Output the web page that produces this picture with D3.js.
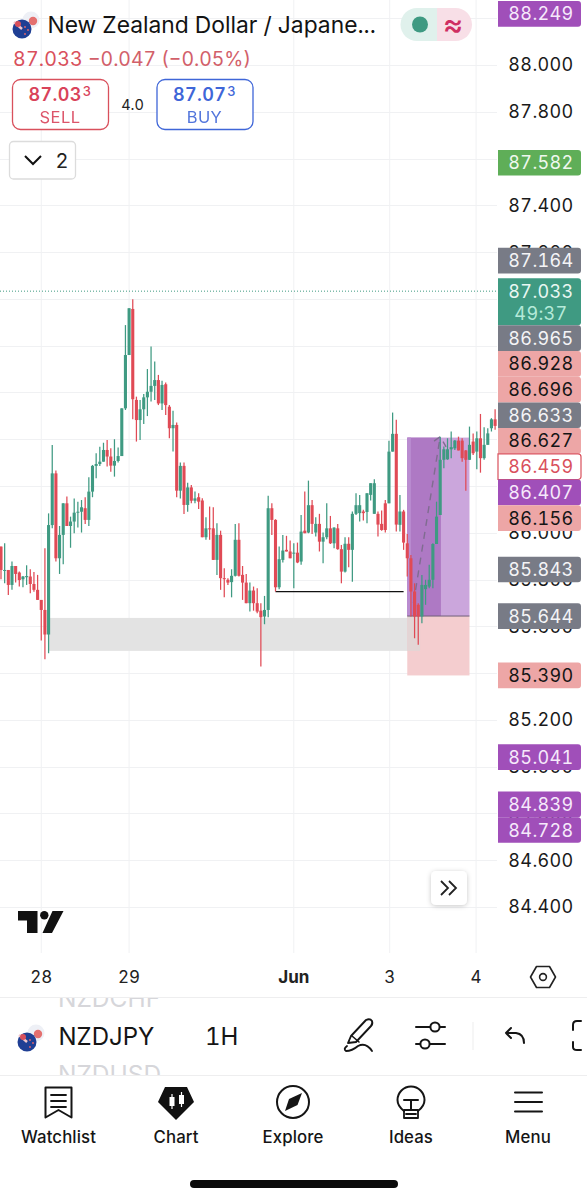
<!DOCTYPE html>
<html><head><meta charset="utf-8">
<script src="https://cdnjs.cloudflare.com/ajax/libs/d3/7.8.5/d3.min.js"></script>
<style>html,body{margin:0;padding:0;background:#fff}svg{display:block}text{font-family:Inter,"Noto Sans",sans-serif;font-variant-numeric:tabular-nums}</style>
</head><body><div id="c"></div>
<script>
// ---- data ----
const directions = ("r g r g r r g g r r r r r g g r g g r g g g g r g g g g g r r g g g g g r r g g g g g r g r r g r g r g r g r "+
 "r g r r g r r r g g r r r g r r r g g r r g g r r g r g r g r g r g g r g r r g r g g g r g g g r r r g g r g r r r r r g g g g g g g g g g r r r g r g r g g g r").trim().split(" ");
const highs = [85.941,85.955,85.841,85.877,85.858,85.834,85.815,85.861,85.844,85.832,85.820,85.713,85.934,86.083,86.375,86.266,86.029,86.126,86.155,86.069,86.147,86.133,86.140,86.152,86.237,86.290,86.340,86.368,86.385,86.397,86.361,86.400,86.365,86.532,86.888,86.960,86.998,86.582,86.568,86.593,86.700,86.796,86.732,86.675,86.650,86.642,86.546,86.522,86.471,86.300,86.300,86.214,86.204,86.176,86.169,
 86.148,86.066,86.112,86.109,86.041,86.009,85.848,85.806,85.844,86.038,86.041,85.858,85.824,85.787,85.770,85.763,85.699,85.730,86.158,86.126,86.058,85.941,85.991,85.987,85.967,85.955,85.958,86.076,86.176,86.223,86.140,86.066,86.081,86.001,86.126,86.072,86.024,86.038,85.948,85.981,85.981,86.091,86.169,86.162,86.098,86.169,86.212,86.229,86.091,86.095,86.140,86.394,86.514,86.483,
 86.162,86.098,85.995,85.905,85.784,85.699,85.820,85.799,85.863,85.955,86.133,86.411,86.369,86.404,86.433,86.397,86.411,86.404,86.354,86.454,86.425,86.433,86.508,86.451,86.447,86.490,86.528];
const bodyTops = [85.941,85.841,85.841,85.858,85.858,85.830,85.813,85.815,85.813,85.781,85.756,85.713,85.670,86.033,86.254,86.254,85.991,86.126,86.126,86.048,86.086,86.090,86.109,86.105,86.176,86.286,86.294,86.304,86.354,86.354,86.326,86.307,86.328,86.532,86.760,86.960,86.957,86.568,86.528,86.579,86.603,86.628,86.653,86.653,86.632,86.635,86.539,86.461,86.461,86.286,86.286,86.194,86.194,86.147,86.152,
 86.138,86.019,86.019,86.019,85.991,85.991,85.806,85.799,85.816,85.970,85.970,85.820,85.787,85.753,85.753,85.699,85.667,85.670,86.105,86.105,86.055,85.887,85.924,85.927,85.920,85.915,85.915,86.005,86.009,86.118,86.118,86.038,86.038,85.981,86.019,86.019,86.022,86.019,85.930,85.953,85.953,86.081,86.118,86.118,86.091,86.169,86.212,86.212,86.081,86.038,86.126,86.347,86.423,86.423,
 86.091,86.091,85.955,85.891,85.749,85.692,85.777,85.777,85.799,85.952,86.069,86.312,86.357,86.357,86.366,86.394,86.394,86.394,86.352,86.376,86.390,86.404,86.404,86.376,86.425,86.485,86.485];
const bodyBottoms = [85.841,85.838,85.777,85.777,85.824,85.798,85.801,85.810,85.781,85.756,85.713,85.670,85.565,85.565,86.033,85.891,85.891,85.991,86.029,86.029,86.048,86.086,86.090,86.055,86.055,86.176,86.286,86.294,86.304,86.326,86.287,86.287,86.307,86.328,86.532,86.760,86.571,86.482,86.482,86.528,86.579,86.603,86.628,86.553,86.553,86.546,86.447,86.447,86.180,86.180,86.119,86.119,86.137,86.137,86.133,
 85.981,85.981,86.015,85.884,85.884,85.806,85.803,85.787,85.789,85.816,85.816,85.787,85.699,85.699,85.699,85.663,85.639,85.642,85.670,86.055,85.767,85.767,85.884,85.920,85.891,85.912,85.873,85.877,85.998,86.001,86.038,86.001,85.962,85.962,85.981,85.955,85.955,85.930,85.834,85.834,85.927,85.927,86.081,86.084,86.084,86.089,86.162,86.081,86.035,86.012,86.012,86.126,86.347,86.035,
 86.034,85.958,85.891,85.749,85.642,85.642,85.642,85.759,85.770,85.799,85.952,86.076,86.312,86.314,86.357,86.361,86.352,86.319,86.312,86.312,86.340,86.347,86.319,86.319,86.376,86.447,86.457];
const lows = [85.801,85.784,85.734,85.756,85.787,85.770,85.767,85.777,85.741,85.748,85.713,85.539,85.459,85.485,86.019,85.877,85.824,85.865,86.029,85.936,85.998,86.023,86.001,86.038,86.029,86.152,86.233,86.286,86.304,86.283,86.261,86.240,86.300,86.328,86.525,86.760,86.485,86.390,86.397,86.465,86.499,86.561,86.568,86.546,86.525,86.504,86.404,86.347,86.152,86.147,86.080,86.090,86.126,86.126,86.102,
 85.981,85.970,85.970,85.884,85.820,85.756,85.724,85.777,85.724,85.813,85.813,85.713,85.699,85.663,85.667,85.656,85.428,85.609,85.639,85.991,85.749,85.759,85.873,85.920,85.891,85.763,85.870,85.863,85.998,85.998,85.995,85.984,85.920,85.870,85.972,85.952,85.934,85.927,85.784,85.830,85.853,85.791,86.076,86.048,86.052,86.041,86.138,86.081,85.984,86.009,86.001,86.126,86.347,86.005,
 86.005,85.927,85.813,85.642,85.549,85.521,85.613,85.692,85.763,85.763,85.952,86.076,86.276,86.312,86.319,86.354,86.352,86.304,86.180,86.312,86.333,86.272,86.257,86.312,86.376,86.433,86.440];
const priceTicks = [88.0,87.8,87.6,87.4,87.2,87.0,86.8,86.6,86.4,86.2,86.0,85.8,85.6,85.4,85.2,85.0,84.8,84.6,84.4];
const dayTicks = [{label:"28",bar:11},{label:"29",bar:35},{label:"Jun",bar:80},{label:"3",bar:106.2},{label:"4",bar:129.8}];
const tagPrices = [88.249,87.582,87.164,87.033,86.965,86.928,86.696,86.633,86.627,86.459,86.407,86.156,85.843,85.644,85.390,85.041,84.839,84.728];
const tagKinds  = ["purple","green","gray","last","gray","pink","pink","gray","pink","outline","purple","pink","gray","gray","pink","purple","purple","purple"];
const lastPrice = 87.033, countdown = "49:37";
const zoneBars = [13, 114.5], zonePrices = [85.636, 85.495];
const swingBars = [75, 110], swingPrice = 85.748;
const positionBars = [111, 128], midBar = 120.2, stripBar = 112;
const positionPrices = {target:86.407, entry:85.644, stop:85.390};
const dashBars = [112.7, 120, 117.7, 120, 121.6], dashPrices = [85.70, 86.411, 86.385, 86.411, 86.367];

// ---- chart ----
const W=587,H=1200;
const svg=d3.select("#c").append("svg").attr("width",W).attr("height",H).attr("viewBox",[0,0,W,H]);
const x=d3.scaleLinear().domain([0,135]).range([1,495.1]);
const y=d3.scaleLinear().domain([88,84.4]).range([65,907]);
const plotR=497, plotB=953;
const GREEN="#3f9a82",RED="#e04a55";

// grid
const grid=svg.append("g").attr("stroke","#f0f1f3").attr("stroke-width",1);
grid.selectAll(".h").data(d3.range(88.2,84.2,-0.2)).join("line").attr("x1",0).attr("x2",plotR).attr("y1",d=>Math.round(y(d))+.5).attr("y2",d=>Math.round(y(d))+.5);
grid.selectAll(".v").data(dayTicks).join("line").attr("x1",d=>x(d.bar)).attr("x2",d=>x(d.bar)).attr("y1",0).attr("y2",plotB);

// demand zone
svg.append("rect").attr("x",x(zoneBars[0])).attr("width",x(zoneBars[1])-x(zoneBars[0])).attr("y",y(zonePrices[0])).attr("height",y(zonePrices[1])-y(zonePrices[0])).attr("fill","#e3e3e3");

// long position tool
const P=positionPrices, px0=x(positionBars[0]), px1=x(positionBars[1]), pm=x(midBar), ps=x(stripBar);
svg.append("rect").attr("x",px0).attr("width",px1-px0).attr("y",y(P.target)).attr("height",y(P.entry)-y(P.target)).attr("fill","#cba6dc");
svg.append("rect").attr("x",px0).attr("width",pm-px0).attr("y",y(P.target)).attr("height",y(P.entry)-y(P.target)).attr("fill","#ae79c4");
svg.append("rect").attr("x",px0).attr("width",ps-px0).attr("y",y(P.target)).attr("height",y(P.entry)-y(P.target)).attr("fill","#b98cd0");
svg.append("rect").attr("x",px0).attr("width",px1-px0).attr("y",y(P.entry)).attr("height",y(P.stop)-y(P.entry)).attr("fill","#f3cacc").attr("opacity",.95);
svg.append("rect").attr("x",px0).attr("width",x(zoneBars[1])-px0).attr("y",y(P.entry)).attr("height",y(zonePrices[1])-y(P.entry)).attr("fill","#e3d5d5");
svg.append("line").attr("x1",px0).attr("x2",px1).attr("y1",y(P.entry)).attr("y2",y(P.entry)).attr("stroke","#6f5f78").attr("stroke-width",1);
const dash=d3.line().x(d=>x(d[0])).y(d=>y(d[1]));
svg.append("path").attr("d",dash(dashBars.map((b,i)=>[b,dashPrices[i]]))).attr("fill","none").attr("stroke","#7f6c90").attr("stroke-width",1.4).attr("stroke-dasharray","7 6");

// swing line
svg.append("line").attr("x1",x(swingBars[0])).attr("x2",x(swingBars[1])).attr("y1",y(swingPrice)).attr("y2",y(swingPrice)).attr("stroke","#111").attr("stroke-width",1.3);

// last price dotted
svg.append("line").attr("x1",0).attr("x2",plotR).attr("y1",y(lastPrice)).attr("y2",y(lastPrice)).attr("stroke",GREEN).attr("stroke-width",1).attr("stroke-dasharray","1 2");

// candles
const idx=d3.range(highs.length);
const col=i=>directions[i]==="g"?GREEN:RED;
svg.append("g").selectAll("line").data(idx).join("line")
  .attr("x1",i=>x(i)).attr("x2",i=>x(i)).attr("y1",i=>y(highs[i])).attr("y2",i=>y(lows[i])).attr("stroke",col).attr("stroke-width",1.25);
svg.append("g").selectAll("rect").data(idx).join("rect")
  .attr("x",i=>x(i)-1.55).attr("width",3.1).attr("y",i=>y(bodyTops[i])).attr("height",i=>Math.max(1,y(bodyBottoms[i])-y(bodyTops[i]))).attr("fill",col);

// price axis labels
svg.append("g").selectAll("text").data(priceTicks).join("text")
  .attr("x",541).attr("y",d=>y(d)).attr("dy",".36em").attr("text-anchor","middle")
  .attr("font-size",18).attr("letter-spacing",.35).attr("fill","#1a1a1a").text(d=>d.toFixed(3));

// tags with collision stacking
const tagH=25.7, style={
 purple:{bg:"#a04fb9",fg:"#f6e9fb"},green:{bg:"#5fae58",fg:"#eff8ee"},gray:{bg:"#787b86",fg:"#f4f4f6"},
 pink:{bg:"#eda6a6",fg:"#151515"},outline:{bg:"#fff",fg:"#d9505c",stroke:"#d9505c"},last:{bg:"#3f9a82",fg:"#e9f7f2"}};
let cursor=-Infinity; const tags=[];
tagPrices.forEach((p,i)=>{
  const h=tagKinds[i]==="last"?47:tagH;
  let top=Math.max(y(p)-tagH/2,cursor,1);
  if(top-cursor<3) top=cursor;           // neighbouring tags touch
  tags.push({p,kind:tagKinds[i],top,h}); cursor=top+h;
});
const tagG=svg.append("g").selectAll("g").data(tags).join("g").attr("transform",d=>`translate(498,${d.top})`);
tagG.append("path").attr("d",d=>`M0,0H80a3,3 0 0 1 3,3V${d.h-3}a3,3 0 0 1 -3,3H0Z`)
  .attr("fill",d=>style[d.kind].bg).attr("stroke",d=>style[d.kind].stroke||"none").attr("stroke-width",1.2);
tagG.append("text").attr("x",43).attr("y",tagH/2).attr("dy",".36em").attr("text-anchor","middle").attr("font-size",18).attr("letter-spacing",.35)
  .attr("fill",d=>style[d.kind].fg).text(d=>d.p.toFixed(3));
tagG.filter(d=>d.kind==="last").append("text").attr("x",43).attr("y",35).attr("dy",".36em").attr("text-anchor","middle").attr("font-size",18).attr("letter-spacing",.35).attr("fill","#b5ead9").text(countdown);

// time axis
svg.append("g").selectAll("text").data(dayTicks).join("text").attr("x",d=>x(d.bar)).attr("y",977).attr("dy",".36em").attr("text-anchor","middle")
  .attr("font-size",17).attr("font-weight",d=>d.label==="Jun"?700:400).attr("fill","#222").text(d=>d.label);

// hex settings icon
svg.append("path").attr("d","M536.5,966.5H549.5L555.5,977L549.5,987.5H536.5L530.5,977Z").attr("fill","none").attr("stroke","#222").attr("stroke-width",1.6).attr("stroke-linejoin","round");
svg.append("circle").attr("cx",543).attr("cy",977).attr("r",3.4).attr("fill","none").attr("stroke","#222").attr("stroke-width",1.6);

// TV logo
svg.append("path").attr("d","M18,911H37.5V933H27V920.5H18Z M52.5,911H63.5L52,933H42.5Z").attr("fill","#111");
svg.append("circle").attr("cx",44.3).attr("cy",915.2).attr("r",4.2).attr("fill","#111");

// expand button
svg.append("defs").append("filter").attr("id","sh").attr("x","-30%").attr("y","-30%").attr("width","160%").attr("height","160%")
  .append("feDropShadow").attr("dx",0).attr("dy",1).attr("stdDeviation",2.5).attr("flood-color","#000").attr("flood-opacity",.22);
svg.append("rect").attr("x",431).attr("y",871).attr("width",36).attr("height",34).attr("rx",5).attr("fill","#fff").attr("filter","url(#sh)");
svg.append("path").attr("d","M441,881L448,888L441,895M449,881L456,888L449,895").attr("fill","none").attr("stroke","#222").attr("stroke-width",1.8);

// header
function flag(cx,cy){
  svg.append("circle").attr("cx",cx+9).attr("cy",cy-9).attr("r",8.5).attr("fill","#eef0f6");
  svg.append("circle").attr("cx",cx+11).attr("cy",cy-8).attr("r",4.2).attr("fill","#e4706f");
  svg.append("circle").attr("cx",cx).attr("cy",cy).attr("r",9.5).attr("fill","#1f3f94");
  svg.append("path").attr("d",`M${cx-8},${cy-7}L${cx},${cy}`).attr("stroke","#f2c6cc").attr("stroke-width",2.4);
  svg.append("circle").attr("cx",cx-4).attr("cy",cy-5).attr("r",3).attr("fill","#d8505c");
  [[3,-2],[6,1],[3,5]].forEach(d=>svg.append("circle").attr("cx",cx+d[0]).attr("cy",cy+d[1]).attr("r",.9).attr("fill","#e66"));
}
flag(22,29);
const txt=(s,xx,yy,size,fill,o={})=>svg.append("text").attr("x",xx).attr("y",yy).attr("dy",".36em").attr("font-size",size).attr("fill",fill)
  .attr("text-anchor",o.a||"start").attr("font-weight",o.w||400).attr("letter-spacing",o.ls||0).attr("opacity",o.op||1).text(s);
txt("New Zealand Dollar / Japane...",47.5,25,22.8,"#131313");
// status pill
svg.append("path").attr("d","M437,8H417a16.5,16.5 0 0 0 0,33H437Z").attr("fill","#e0f1ec");
svg.append("path").attr("d","M437,8H455.5a16.5,16.5 0 0 1 0,33H437Z").attr("fill","#f8dfe7");
svg.append("circle").attr("cx",420).attr("cy",24.5).attr("r",8).attr("fill",GREEN);
txt("≈",453,24,31,"#cf2f62",{a:"middle",w:500});
// price row
const red2="#d9505c";
txt("87.033",13,59,19.6,red2,{ls:.2});
txt("−0.047 (−0.05%)",88,59,19.4,"#d2606a",{ls:0});
// sell / buy
const box=(x0,w,c)=>svg.append("rect").attr("x",x0).attr("y",79.5).attr("width",w).attr("height",50).attr("rx",8).attr("fill","#fff").attr("stroke",c).attr("stroke-width",1.3);
box(12.5,96,red2); box(157,96,"#3f66d8");
function quote(cx,main,sup,c,lab){
  const t=svg.append("text").attr("x",cx).attr("y",95).attr("dy",".36em").attr("text-anchor","middle").attr("fill",c).attr("letter-spacing",.4);
  t.append("tspan").attr("font-size",18).attr("font-weight",600).text(main);
  t.append("tspan").attr("font-size",13).attr("font-weight",500).attr("dy","-.35em").attr("dx",1).text(sup);
  txt(lab,cx,117,16.5,c,{a:"middle",ls:.4,op:.9});
}
quote(60,"87.03","3","#d9435a","SELL");
quote(204.5,"87.07","3","#3f66d8","BUY");
txt("4.0",132.5,105,14.5,"#222",{a:"middle"});
// collapse
svg.append("rect").attr("x",9.5).attr("y",141.5).attr("width",66).attr("height",37.5).attr("rx",4).attr("fill","#fff").attr("stroke","#dcdcdc").attr("stroke-width",1.3);
svg.append("path").attr("d","M25,156L33,164L41,156").attr("fill","none").attr("stroke","#111").attr("stroke-width",2);
txt("2",62,160.5,20,"#222",{a:"middle"});

// toolbar
svg.append("clipPath").attr("id","tb").append("rect").attr("x",0).attr("y",997).attr("width",W).attr("height",78);
const tb=svg.append("g").attr("clip-path","url(#tb)");
tb.append("text").attr("x",58).attr("y",1007).attr("font-size",24.5).attr("fill","#d6d6da").text("NZDCHF");
tb.append("text").attr("x",58).attr("y",1083).attr("font-size",24.5).attr("fill","#d6d6da").text("NZDUSD");
svg.append("rect").attr("x",0).attr("y",997).attr("width",W).attr("height",1).attr("fill","#eeeeef");
svg.append("rect").attr("x",0).attr("y",1075).attr("width",W).attr("height",1).attr("fill","#eeeeef");
flag(27,1042);
txt("NZDJPY",58.5,1036,24,"#151515");
txt("1H",205,1036,24,"#151515");
const ic=(d,w=2)=>svg.append("path").attr("d",d).attr("fill","none").attr("stroke","#151515").attr("stroke-width",w).attr("stroke-linecap","round").attr("stroke-linejoin","round");
ic("M348,1043L351,1036L366,1020Q370,1018 372,1021Q373,1024 371,1026L356,1042Z",1.9);
ic("M352,1036L359,1042",1.6);
ic("M372,1051Q366,1042 358,1046Q352,1051 346,1051Q343,1049 347,1046",1.9);
ic("M416,1027H430M440,1027H445M416,1044H420M430,1044H445",2);
svg.append("circle").attr("cx",435).attr("cy",1027).attr("r",4.6).attr("fill","none").attr("stroke","#151515").attr("stroke-width",2);
svg.append("circle").attr("cx",425).attr("cy",1044).attr("r",4.6).attr("fill","none").attr("stroke","#151515").attr("stroke-width",2);
svg.append("rect").attr("x",472.5).attr("y",1022).attr("width",1).attr("height",28).attr("fill","#eee");
ic("M511,1028L506,1033L511,1038M506,1033H516Q524,1034 524,1043",2);
ic("M581,1021H577Q573,1021 573,1025V1030M573,1042V1047Q573,1050 577,1050H581",2);

// bottom nav
const navX=[58.5,176,293,411,528], navL=["Watchlist","Chart","Explore","Ideas","Menu"];
svg.append("g").selectAll("text").data(navL).join("text").attr("x",(d,i)=>navX[i]).attr("y",1137).attr("dy",".36em").attr("text-anchor","middle")
  .attr("font-size",16.8).attr("font-weight",500).attr("letter-spacing",.1).attr("fill","#151515").text(d=>d);
ic("M45.5,1087.5H71.5V1117.5L58.5,1110L45.5,1117.5Z",2);
ic("M51,1095H66M51,1101H66M51,1107H66",1.8);
svg.append("path").attr("d","M165,1087H187L194,1102L176,1120L158,1102Z").attr("fill","#111");
svg.append("rect").attr("x",169.5).attr("y",1097).attr("width",5).attr("height",9).attr("fill","#fff");
svg.append("rect").attr("x",179).attr("y",1095).attr("width",5).attr("height",9).attr("fill","#fff");
svg.append("path").attr("d","M172,1094V1109M181.5,1092V1107").attr("stroke","#fff").attr("stroke-width",1.2);
svg.append("circle").attr("cx",293).attr("cy",1102).attr("r",16).attr("fill","none").attr("stroke","#151515").attr("stroke-width",2);
svg.append("path").attr("d","M302,1093L297.5,1105L285,1111L289,1099Z").attr("fill","#151515");
ic("M404,1118V1110H418V1118Z M406,1114H416",1.8);
ic("M404,1111Q397.5,1106 397.5,1100A13.5,13.5 0 0 1 424.5,1100Q424.5,1106 418,1111",2);
ic("M404,1100H418M411,1100V1110",2);
ic("M515,1092.5H542M515,1102H542M515,1111.5H542",2);

// home bar
svg.append("rect").attr("x",190).attr("y",1180).attr("width",208).attr("height",8).attr("rx",4).attr("fill","#0a0a0a");
</script></body></html>
